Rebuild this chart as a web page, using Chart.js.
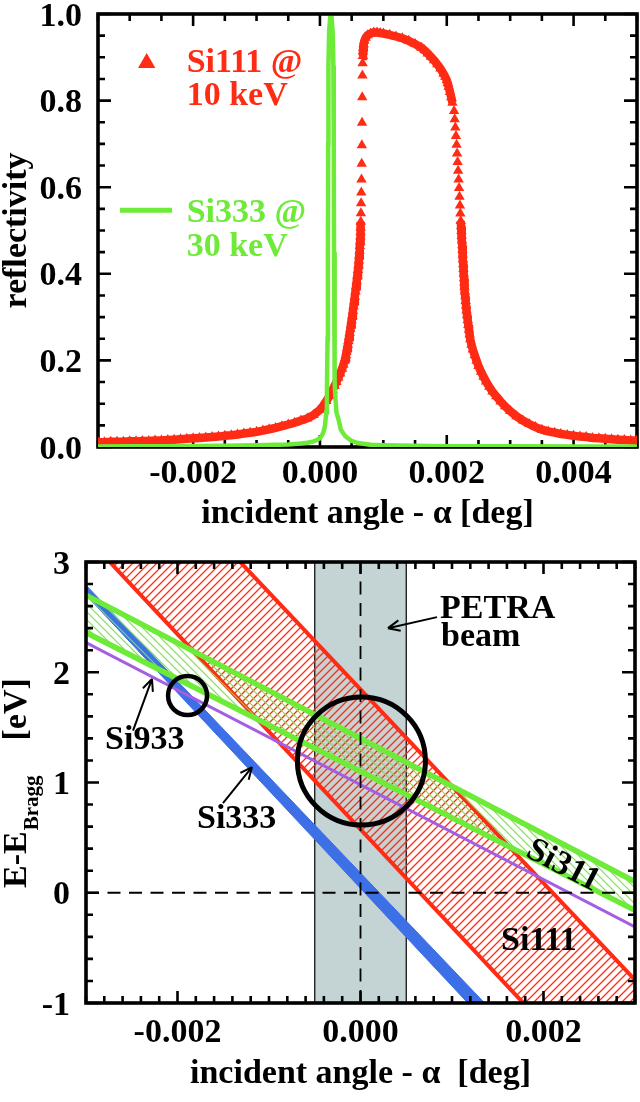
<!DOCTYPE html>
<html><head><meta charset="utf-8">
<script src="https://cdn.jsdelivr.net/npm/chart.js@4.4.0/dist/chart.umd.min.js"></script>
<style>
html,body{margin:0;padding:0;background:#fff;}
#wrap{position:relative;width:640px;height:1102px;overflow:hidden;background:#fff;}
canvas{position:absolute;left:0;}
</style></head><body>
<div id="wrap">
<canvas id="c1" width="640" height="540" style="top:0;width:640px;height:540px"></canvas>
<canvas id="c2" width="640" height="562" style="top:540px;width:640px;height:562px"></canvas>
</div>
<script>
// ---------------- DATA: top panel (reflectivity curves) ----------------
const si111Angle = [
 -0.0035,-0.0034,-0.0033,-0.0032,-0.0031,-0.003,-0.0029,-0.0028,-0.0027,-0.0026,
 -0.0025,-0.0024,-0.0023,-0.0022,-0.0021,-0.002,-0.0019,-0.0018,-0.0017,-0.0016,
 -0.0015,-0.0014,-0.0013,-0.0012,-0.0011,-0.001,-0.0009,-0.0008,-0.0007,-0.0006,
 -0.0005,-0.0004,-0.0003,-0.0002,-0.0001,0,0.00005,0.0001,0.00015,0.0002,
 0.00023,0.00026,0.00029,0.00032,0.00035,0.00037,0.00039,0.0004,0.00041,0.00042,
 0.00043,0.00044,0.00045,0.00046,0.00047,0.00048,0.00049,0.0005,0.00051,0.00052,
 0.00053,0.00054,0.00055,0.00056,0.00057,0.00058,0.00059,0.0006,0.000607,0.000614,
 0.00062,0.000625,0.00063,0.000634,0.000637,0.00064,0.000642,0.000644,0.000646,0.000649,
 0.000652,0.000655,0.000658,0.000661,0.000664,0.000667,0.00067,0.000673,0.000676,0.000679,
 0.000683,0.00069,0.0007,0.00072,0.00075,0.0008,0.00085,0.0009,0.00095,0.001,
 0.0011,0.0012,0.0013,0.0014,0.0015,0.0016,0.00165,0.0017,0.00175,0.0018,
 0.00185,0.0019,0.00195,0.001975,0.002,0.002015,0.00203,0.00205,0.00207,0.00209,
 0.002115,0.002125,0.002135,0.002145,0.002155,0.002163,0.002171,0.002179,0.002187,0.002194,
 0.002201,0.002208,0.002214,0.00222,0.002226,0.002231,0.002236,0.00224,0.002244,0.002248,
 0.002252,0.002256,0.00226,0.002264,0.002268,0.002272,0.002276,0.00228,0.002286,0.002292,
 0.002298,0.002304,0.002312,0.00232,0.00233,0.00234,0.00235,0.00236,0.00237,0.00239,
 0.00241,0.00244,0.00247,0.0025,0.00254,0.00258,0.00262,0.00267,0.00272,0.00278,
 0.00285,0.00292,0.003,0.0031,0.0032,0.0033,0.0034,0.0035,0.0036,0.0037,
 0.0038,0.0039,0.004,0.0041,0.0042,0.0043,0.0044,0.0045,0.0046,0.0047,
 0.0048,0.0049,0.005
];
const si111Refl = [
 0.011,0.011,0.012,0.012,0.012,0.013,0.013,0.014,0.014,0.015,
 0.015,0.016,0.017,0.018,0.019,0.020,0.021,0.022,0.023,0.024,
 0.026,0.027,0.029,0.031,0.033,0.035,0.038,0.041,0.044,0.048,
 0.052,0.056,0.061,0.066,0.074,0.086,0.095,0.106,0.118,0.132,
 0.141,0.150,0.160,0.170,0.181,0.190,0.199,0.205,0.212,0.220,
 0.228,0.236,0.245,0.254,0.263,0.273,0.283,0.293,0.303,0.314,
 0.325,0.336,0.347,0.359,0.371,0.383,0.396,0.409,0.420,0.431,
 0.442,0.453,0.464,0.475,0.486,0.496,0.507,0.520,0.540,0.563,
 0.588,0.618,0.654,0.697,0.749,0.808,0.858,0.886,0.903,0.914,
 0.922,0.930,0.938,0.945,0.951,0.955,0.957,0.957,0.956,0.955,
 0.952,0.948,0.944,0.938,0.931,0.922,0.916,0.909,0.901,0.893,
 0.884,0.874,0.862,0.855,0.847,0.840,0.832,0.820,0.808,0.795,
 0.776,0.757,0.738,0.718,0.698,0.678,0.658,0.638,0.618,0.598,
 0.578,0.558,0.539,0.522,0.510,0.499,0.488,0.477,0.466,0.455,
 0.444,0.433,0.422,0.411,0.400,0.390,0.380,0.370,0.359,0.348,
 0.337,0.326,0.315,0.304,0.293,0.282,0.271,0.260,0.249,0.236,
 0.225,0.212,0.199,0.187,0.174,0.162,0.151,0.139,0.128,0.117,
 0.105,0.094,0.083,0.071,0.061,0.053,0.046,0.040,0.036,0.033,
 0.030,0.028,0.026,0.024,0.023,0.021,0.020,0.019,0.018,0.017,
 0.016,0.015,0.015
];
const si333Angle = [
 -0.0035,-0.003,-0.0025,-0.002,-0.0015,-0.001,-0.0007,-0.0005,-0.0003,-0.0002,
 -0.0001,-0.00005,0,0.00003,0.00006,0.00008,0.0001,0.00011,0.00012,0.000126,
 0.00013,0.000134,0.000145,0.00016,0.000185,0.0002,0.000212,0.000218,0.000222,0.000228,
 0.000236,0.000245,0.00026,0.00029,0.00033,0.0004,0.0005,0.0006,0.0008,0.001,
 0.0015,0.002,0.003,0.004,0.005
];
const si333Refl = [
 0.001,0.0015,0.002,0.0025,0.003,0.004,0.005,0.006,0.008,0.010,
 0.013,0.016,0.020,0.026,0.036,0.05,0.08,0.13,0.25,0.45,
 0.70,0.88,0.96,0.99,0.99,0.96,0.88,0.70,0.45,0.25,
 0.15,0.11,0.08,0.065,0.04,0.025,0.014,0.009,0.005,0.004,
 0.003,0.002,0.0015,0.001,0.001
];
const topXTicks = [-0.002, 0, 0.002, 0.004];
const topXLabels = ['-0.002', '0.000', '0.002', '0.004'];
const topYTicks = [0, 0.2, 0.4, 0.6, 0.8, 1.0];
const topYLabels = ['0.0', '0.2', '0.4', '0.6', '0.8', '1.0'];

// ---------------- DATA: bottom panel (DuMond diagram) ----------------
// each band edge is a straight line, given by its energy at the left and right frame angles
const edgeAngles = [-0.003, 0.003];
const si111LowEdge = [3.23, -2.08];
const si111HighEdge = [4.48, -0.79];
const si333LowEdge = [2.70, -2.62];
const si333HighEdge = [2.79, -2.43];
const si311HighEdge = [2.70, 0.10];
const si311LowEdge = [2.36, -0.16];
const si933Line = [2.27, -0.31];
const petraAngles = [-0.0005, 0.0005];
const energyRange = [-1, 3];
const acceptanceAngle = [0.00001, -0.00189];
const acceptanceEnergy = [1.195, 1.789];
const botXTicks = [-0.002, 0, 0.002];
const botXLabels = ['-0.002', '0.000', '0.002'];
const botYTicks = [-1, 0, 1, 2, 3];
const botYLabels = ['-1', '0', '1', '2', '3'];

// ---------------- styles ----------------
const RED = '#ff2b14', GREEN = '#6eea38', BLUE = '#3d6fe6', PURPLE = '#a45ee2', GRAY = '#c4d3d3';
const SERIF = '"Liberation Serif", "Times New Roman", serif';
const FS = 34;

function pts(xs, ys) { return xs.map((x, i) => ({x: x, y: ys[i]})); }

function drawFrame(chart, c) {
  const {ctx, chartArea: a, scales: {x, y}} = chart;
  ctx.save();
  ctx.strokeStyle = '#000';
  ctx.lineWidth = 2.6;
  ctx.beginPath();
  const nx = Math.round((c.xMax - c.xMin) / c.xMinor);
  for (let i = 0; i <= nx; i++) {
    const v = c.xMin + i * c.xMinor;
    const r = v / c.xMajor;
    const L = Math.abs(r - Math.round(r)) < 1e-6 ? 12 : 7;
    const px = x.getPixelForValue(v);
    ctx.moveTo(px, a.bottom); ctx.lineTo(px, a.bottom - L);
    ctx.moveTo(px, a.top); ctx.lineTo(px, a.top + L);
  }
  const ny = Math.round((c.yMax - c.yMin) / c.yMinor);
  for (let i = 0; i <= ny; i++) {
    const v = c.yMin + i * c.yMinor;
    const r = v / c.yMajor;
    const L = Math.abs(r - Math.round(r)) < 1e-6 ? 13 : 7;
    const py = y.getPixelForValue(v);
    ctx.moveTo(a.left, py); ctx.lineTo(a.left + L, py);
    ctx.moveTo(a.right, py); ctx.lineTo(a.right - L, py);
  }
  ctx.stroke();
  ctx.lineWidth = 3.6;
  ctx.strokeRect(a.left, a.top, a.right - a.left, a.bottom - a.top);
  ctx.restore();
}

function drawTickLabels(chart, c) {
  const {ctx, chartArea: a, scales: {x, y}} = chart;
  ctx.save();
  ctx.fillStyle = '#000';
  ctx.font = 'bold ' + FS + 'px ' + SERIF;
  ctx.textBaseline = 'alphabetic';
  ctx.textAlign = 'center';
  c.xTicks.forEach((v, i) => ctx.fillText(c.xLabels[i], x.getPixelForValue(v), a.bottom + c.xLabelGap));
  ctx.textAlign = 'right';
  c.yTicks.forEach((v, i) => ctx.fillText(c.yLabels[i], a.left - c.yLabelGap, y.getPixelForValue(v) + 11.5));
  ctx.textAlign = 'center';
  ctx.fillText(c.xTitle, (a.left + a.right) / 2, a.bottom + c.xTitleGap);
  ctx.restore();
}

function arrow(ctx, x1, y1, x2, y2, head) {
  ctx.beginPath();
  ctx.moveTo(x1, y1); ctx.lineTo(x2, y2);
  const ang = Math.atan2(y2 - y1, x2 - x1);
  [-1, 1].forEach(s => {
    ctx.moveTo(x2, y2);
    ctx.lineTo(x2 - head * Math.cos(ang + s * 0.42), y2 - head * Math.sin(ang + s * 0.42));
  });
  ctx.stroke();
}

// ---------------- TOP CHART ----------------
const topCfg = {
  xMin: -0.0035, xMax: 0.005, xMinor: 0.0005, xMajor: 0.002,
  yMin: 0, yMax: 1, yMinor: 0.05, yMajor: 0.2,
  xTicks: topXTicks, xLabels: topXLabels, yTicks: topYTicks, yLabels: topYLabels,
  xLabelGap: 36, yLabelGap: 16, xTitleGap: 76, xTitle: 'incident angle - \u03b1 [deg]'
};
const topLegend = [
  {kind: 'tri', x: -0.002732, y: 0.887, color: RED},
  {kind: 'text', x: -0.002101, y: 0.867, text: 'Si111 @', color: RED},
  {kind: 'text', x: -0.002101, y: 0.790, text: '10 keV', color: RED},
  {kind: 'line', x: -0.003153, x2: -0.002333, y: 0.547, color: GREEN},
  {kind: 'text', x: -0.002101, y: 0.520, text: 'Si333 @', color: GREEN},
  {kind: 'text', x: -0.002101, y: 0.440, text: '30 keV', color: GREEN}
];
const topPlugin = {
  id: 'topAxes',
  beforeDatasetsDraw(chart) { drawFrame(chart, topCfg); },
  afterDatasetsDraw(chart) {
    drawTickLabels(chart, topCfg);
    const {ctx, chartArea: a, scales: {x, y}} = chart;
    ctx.save();
    ctx.font = 'bold ' + FS + 'px ' + SERIF;
    ctx.fillStyle = '#000';
    ctx.translate(26, (a.top + a.bottom) / 2);
    ctx.rotate(-Math.PI / 2);
    ctx.textAlign = 'center';
    ctx.textBaseline = 'alphabetic';
    ctx.fillText('reflectivity', 0, 0);
    ctx.restore();
    ctx.save();
    ctx.font = 'bold ' + FS + 'px ' + SERIF;
    ctx.textBaseline = 'alphabetic';
    ctx.textAlign = 'left';
    topLegend.forEach(it => {
      const px = x.getPixelForValue(it.x), py = y.getPixelForValue(it.y);
      if (it.kind === 'text') { ctx.fillStyle = it.color; ctx.fillText(it.text, px, py); }
      else if (it.kind === 'line') {
        ctx.strokeStyle = it.color; ctx.lineWidth = 5;
        ctx.beginPath(); ctx.moveTo(px, py); ctx.lineTo(x.getPixelForValue(it.x2), py); ctx.stroke();
      } else {
        ctx.fillStyle = it.color; const r = 10;
        ctx.beginPath();
        ctx.moveTo(px, py - r);
        ctx.lineTo(px + r * Math.sin(2 * Math.PI / 3), py - r * Math.cos(2 * Math.PI / 3));
        ctx.lineTo(px + r * Math.sin(4 * Math.PI / 3), py - r * Math.cos(4 * Math.PI / 3));
        ctx.closePath(); ctx.fill();
      }
    });
    ctx.restore();
  }
};

new Chart(document.getElementById('c1'), {
  type: 'scatter',
  data: {
    datasets: [
      {
        label: 'Si333 @ 30 keV', data: pts(si333Angle, si333Refl), showLine: true,
        borderColor: GREEN, borderWidth: 4.5, pointRadius: 0, tension: 0, order: 1
      },
      {
        label: 'Si111 @ 10 keV', data: pts(si111Angle, si111Refl), showLine: true,
        borderColor: RED, borderWidth: 8.5, pointStyle: 'triangle', pointRadius: 6,
        pointBackgroundColor: RED, pointBorderWidth: 0, tension: 0, order: 2,
        segment: { borderColor: ctx => Math.abs(ctx.p1.y - ctx.p0.y) < 6.5 ? RED : 'rgba(0,0,0,0)' }
      }
    ]
  },
  options: {
    responsive: false, animation: false, events: [], devicePixelRatio: 1,
    layout: { autoPadding: false, padding: { left: 98, top: 14, right: 3, bottom: 93 } },
    scales: {
      x: { type: 'linear', min: topCfg.xMin, max: topCfg.xMax, display: false },
      y: { type: 'linear', min: topCfg.yMin, max: topCfg.yMax, display: false }
    },
    plugins: { legend: { display: false }, tooltip: { enabled: false } }
  },
  plugins: [topPlugin]
});

// ---------------- BOTTOM CHART ----------------
const botCfg = {
  xMin: -0.003, xMax: 0.003, xMinor: 0.0002, xMajor: 0.002,
  yMin: -1, yMax: 3, yMinor: 0.2, yMajor: 1,
  xTicks: botXTicks, xLabels: botXLabels, yTicks: botYTicks, yLabels: botYLabels,
  xLabelGap: 39, yLabelGap: 16, xTitleGap: 80, xTitle: 'incident angle - \u03b1  [deg]'
};
const botNotes = [
  {text: 'PETRA', x: 0.00087, y: 2.493, align: 'left'},
  {text: 'beam', x: 0.00088, y: 2.239, align: 'left'},
  {text: 'Si933', x: -0.002792, y: 1.305, align: 'left'},
  {text: 'Si333', x: -0.001787, y: 0.587, align: 'left'},
  {text: 'Si111', x: 0.00195, y: -0.517, align: 'center'},
  {text: 'Si311', x: 0.002213, y: 0.243, align: 'center', rot: 0.48}
];
const botArrows = [
  {x1: 0.000836, y1: 2.50, x2: 0.0003, y2: 2.40},
  {x1: -0.002486, y1: 1.47, x2: -0.002279, y2: 1.94},
  {x1: -0.001503, y1: 0.814, x2: -0.001186, y2: 1.14}
];
// hatched bands: drawn just before the dataset 'at', between datasets a and b
const hatchBands = [
  {at: 8, a: 7, b: 8, color: RED, dir: '/', step: 8, width: 1.3},
  {at: 6, a: 5, b: 6, color: GREEN, dir: '\\', step: 8, width: 1.1}
];
const botPlugin = {
  id: 'botAxes',
  beforeDatasetDraw(chart, args) {
    const band = hatchBands.find(b => b.at === args.index);
    if (!band) return;
    const {ctx, chartArea: a} = chart;
    const p1 = chart.getDatasetMeta(band.a).data, p2 = chart.getDatasetMeta(band.b).data;
    ctx.save();
    ctx.beginPath(); ctx.rect(a.left, a.top, a.right - a.left, a.bottom - a.top); ctx.clip();
    ctx.beginPath();
    p1.forEach((p, i) => i ? ctx.lineTo(p.x, p.y) : ctx.moveTo(p.x, p.y));
    for (let i = p2.length - 1; i >= 0; i--) ctx.lineTo(p2[i].x, p2[i].y);
    ctx.closePath(); ctx.clip();
    ctx.strokeStyle = band.color; ctx.lineWidth = band.width;
    ctx.beginPath();
    const W = a.right - a.left, H = a.bottom - a.top;
    for (let k = -H; k <= W; k += band.step) {
      if (band.dir === '/') { ctx.moveTo(a.left + k, a.bottom); ctx.lineTo(a.left + k + H, a.top); }
      else { ctx.moveTo(a.left + k, a.top); ctx.lineTo(a.left + k + H, a.bottom); }
    }
    ctx.stroke();
    ctx.restore();
  },
  afterDatasetsDraw(chart) {
    drawFrame(chart, botCfg);
    drawTickLabels(chart, botCfg);
    const {ctx, chartArea: a, scales: {x, y}} = chart;
    ctx.save();
    ctx.fillStyle = '#000'; ctx.strokeStyle = '#000';
    ctx.font = 'bold ' + FS + 'px ' + SERIF;
    botNotes.forEach(n => {
      const px = x.getPixelForValue(n.x), py = y.getPixelForValue(n.y);
      ctx.save();
      ctx.textAlign = n.align;
      if (n.rot) {
        ctx.translate(px, py); ctx.rotate(n.rot); ctx.textBaseline = 'middle';
        ctx.fillText(n.text, 0, 0);
      } else {
        ctx.textBaseline = 'alphabetic';
        ctx.fillText(n.text, px, py);
      }
      ctx.restore();
    });
    ctx.lineWidth = 2;
    botArrows.forEach(r => arrow(ctx, x.getPixelForValue(r.x1), y.getPixelForValue(r.y1),
      x.getPixelForValue(r.x2), y.getPixelForValue(r.y2), 13));
    ctx.restore();
    // y title: E-E_Bragg  [eV]
    ctx.save();
    ctx.fillStyle = '#000';
    ctx.translate(26, a.bottom - 115);
    ctx.rotate(-Math.PI / 2);
    ctx.textAlign = 'left'; ctx.textBaseline = 'alphabetic';
    ctx.font = 'bold ' + FS + 'px ' + SERIF;
    ctx.fillText('E-E', 0, 0);
    const w1 = ctx.measureText('E-E').width;
    ctx.font = 'bold 21px ' + SERIF;
    ctx.fillText('Bragg', w1 + 1, 12);
    const w2 = ctx.measureText('Bragg').width;
    ctx.font = 'bold ' + FS + 'px ' + SERIF;
    ctx.fillText('[eV]', w1 + w2 + 36, 0);
    ctx.restore();
  }
};

const line2 = (ys) => pts(edgeAngles, ys);
new Chart(document.getElementById('c2'), {
  type: 'scatter',
  data: {
    datasets: [
      { label: 'acceptance', data: [{x: acceptanceAngle[0], y: acceptanceEnergy[0]}], pointRadius: 64,
        pointBorderWidth: 5, pointBorderColor: '#000', pointBackgroundColor: 'rgba(0,0,0,0)', order: 1 },
      { label: 'acceptance small', data: [{x: acceptanceAngle[1], y: acceptanceEnergy[1]}], pointRadius: 19.5,
        pointBorderWidth: 4.5, pointBorderColor: '#000', pointBackgroundColor: 'rgba(0,0,0,0)', order: 1 },
      { label: 'E=0', data: pts(edgeAngles, [0, 0]), showLine: true, borderColor: '#000', borderWidth: 1.8,
        borderDash: [13, 8.5], pointRadius: 0, order: 2 },
      { label: 'alpha=0', data: pts([0, 0], energyRange), showLine: true, borderColor: '#000', borderWidth: 1.8,
        borderDash: [13, 8.5], pointRadius: 0, order: 2 },
      { label: 'Si933', data: line2(si933Line), showLine: true, borderColor: PURPLE, borderWidth: 3,
        pointRadius: 0, order: 3 },
      { label: 'Si311 high', data: line2(si311HighEdge), showLine: true, borderColor: GREEN, borderWidth: 5.5,
        pointRadius: 0, order: 5 },
      { label: 'Si311 low', data: line2(si311LowEdge), showLine: true, borderColor: GREEN, borderWidth: 5.5,
        pointRadius: 0, fill: false, order: 5 },
      { label: 'Si111 low', data: line2(si111LowEdge), showLine: true, borderColor: RED, borderWidth: 4,
        pointRadius: 0, order: 6 },
      { label: 'Si111 high', data: line2(si111HighEdge), showLine: true, borderColor: RED, borderWidth: 4,
        pointRadius: 0, fill: false, order: 6 },
      { label: 'Si333 high', data: line2(si333HighEdge), showLine: true, borderColor: BLUE, borderWidth: 1,
        pointRadius: 0, order: 8 },
      { label: 'Si333 low', data: line2(si333LowEdge), showLine: true, borderColor: BLUE, borderWidth: 1,
        pointRadius: 0, fill: 9, backgroundColor: BLUE, order: 8 },
      { label: 'PETRA left', data: pts([petraAngles[0], petraAngles[0]], energyRange), showLine: true,
        borderColor: '#000', borderWidth: 1.2, pointRadius: 0, order: 9 },
      { label: 'PETRA right', data: pts([petraAngles[1], petraAngles[1]], energyRange), showLine: true,
        borderColor: '#000', borderWidth: 1.2, pointRadius: 0, order: 9 },
      { label: 'PETRA beam', data: pts(petraAngles, [energyRange[1], energyRange[1]]), showLine: true,
        borderWidth: 0, borderColor: 'rgba(0,0,0,0)', pointRadius: 0, fill: {value: energyRange[0]},
        backgroundColor: GRAY, order: 10 }
    ]
  },
  options: {
    responsive: false, animation: false, events: [], devicePixelRatio: 1,
    layout: { autoPadding: false, padding: { left: 86, top: 22, right: 5, bottom: 99 } },
    scales: {
      x: { type: 'linear', min: botCfg.xMin, max: botCfg.xMax, display: false },
      y: { type: 'linear', min: botCfg.yMin, max: botCfg.yMax, display: false }
    },
    plugins: { legend: { display: false }, tooltip: { enabled: false } }
  },
  plugins: [botPlugin]
});
</script>
</body></html>
